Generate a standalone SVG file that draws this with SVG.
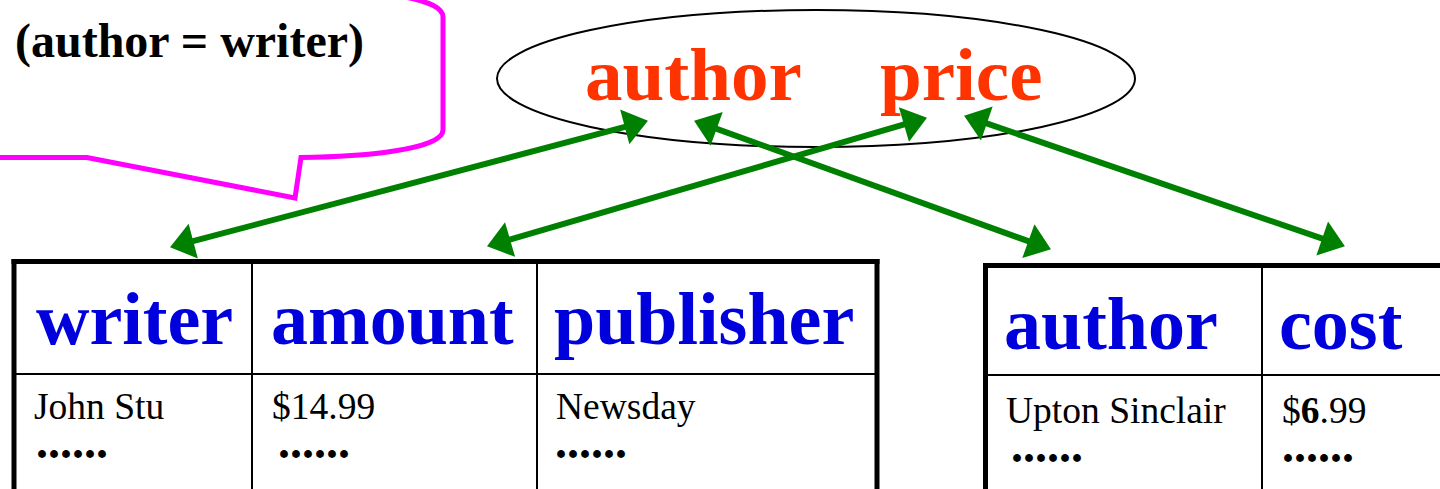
<svg xmlns="http://www.w3.org/2000/svg" width="1440" height="489" viewBox="0 0 1440 489">
<style>
.serif{font-family:"Liberation Serif","Times New Roman",serif}
.hdr{font-family:"Liberation Serif","Times New Roman",serif;font-weight:bold;font-size:74px;fill:#0000dd}
.red{font-family:"Liberation Serif","Times New Roman",serif;font-weight:bold;font-size:75px;fill:#ff3300}
.dat{font-family:"Liberation Serif","Times New Roman",serif;font-size:37.5px;fill:#000}
.dots{font-family:"Liberation Serif","Times New Roman",serif;font-weight:bold;font-size:48px;fill:#000}
.thick{stroke:#000;stroke-width:5;fill:none}
.thin{stroke:#000;stroke-width:2;fill:none}
.arrow{stroke:#008000;stroke-width:6;fill:none;marker-start:url(#ah);marker-end:url(#ah)}
</style>
<defs>
<marker id="ah" markerUnits="userSpaceOnUse" markerWidth="26" markerHeight="38" refX="11" refY="18" orient="auto-start-reverse" overflow="visible">
<path d="M0,0 L24,18 L0,36 z" fill="#008000"/>
</marker>
</defs>
<rect width="1440" height="489" fill="#fff"/>

<g id="callout">
<path d="M0,157.5 L87,157.5 L295,198 L301,157.5 C360,157 443,150 443,130 L443,17 C443,8 430,2 405,-3" fill="none" stroke="#ff00ff" stroke-width="5"/>
<text class="serif" x="15" y="57" font-weight="bold" font-size="48">(author = writer)</text>
</g>

<g id="target-schema">
<ellipse cx="816" cy="78.5" rx="319" ry="68.5" fill="none" stroke="#000" stroke-width="2"/>
<text class="red" x="585" y="100">author</text>
<text class="red" x="880" y="100">price</text>
</g>

<g id="source-table-1">
<line class="thick" x1="11.5" y1="261.5" x2="879.5" y2="261.5"/>
<line class="thick" x1="14" y1="259" x2="14" y2="495"/>
<line class="thick" x1="877" y1="259" x2="877" y2="495"/>
<line class="thin" x1="252" y1="261" x2="252" y2="495"/>
<line class="thin" x1="537" y1="261" x2="537" y2="495"/>
<line class="thin" x1="14" y1="374" x2="877" y2="374"/>
<text class="hdr" x="36" y="344">writer</text>
<text class="hdr" x="271" y="344">amount</text>
<text class="hdr" x="554" y="344">publisher</text>
<text class="dat" x="34" y="419">John Stu</text>
<text class="dat" x="272" y="419">$14.99</text>
<text class="dat" x="556" y="419">Newsday</text>
<text class="dots" x="36" y="458">......</text>
<text class="dots" x="278" y="458">......</text>
<text class="dots" x="555" y="458">......</text>
</g>

<g id="source-table-2">
<line class="thick" x1="983" y1="265.5" x2="1445" y2="265.5"/>
<line class="thick" x1="985.5" y1="263" x2="985.5" y2="495"/>
<line class="thin" x1="1262" y1="265" x2="1262" y2="495"/>
<line class="thin" x1="985" y1="375" x2="1445" y2="375"/>
<text class="hdr" x="1004" y="349">author</text>
<text class="hdr" x="1279" y="349">cost</text>
<text class="dat" x="1006" y="423">Upton Sinclair</text>
<text class="dat" x="1282" y="423">$<tspan font-weight="bold">6</tspan>.99</text>
<text class="dots" x="1011" y="462">......</text>
<text class="dots" x="1282" y="462">......</text>
</g>

<g id="connectors">
<line class="arrow" x1="182.6" y1="243.9" x2="635.4" y2="124.1"/>
<line class="arrow" x1="499.5" y1="242.6" x2="914.5" y2="121.4"/>
<line class="arrow" x1="706.3" y1="125.1" x2="1038.7" y2="244.9"/>
<line class="arrow" x1="976.4" y1="119.9" x2="1332.6" y2="242.1"/>
</g>
</svg>
